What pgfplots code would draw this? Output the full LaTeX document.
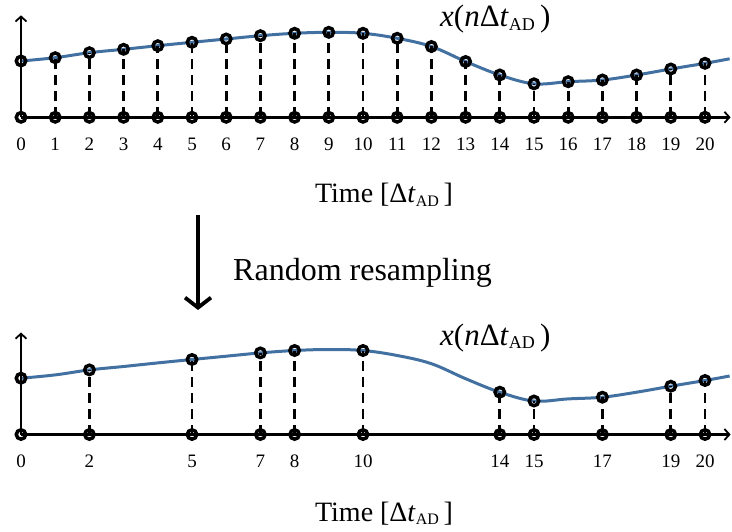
\documentclass[border=0pt]{standalone}
\usepackage{pgfplots}
\usepackage{pgfplotstable}
\pgfplotsset{compat=1.18}
\usepackage{fontspec}
\setmainfont{Liberation Serif}
\usetikzlibrary{arrows.meta}
\definecolor{curveblue}{RGB}{66,112,160}

\pgfplotstableread{
x y
0 56.3
1 59.6
2 64.6
3 68
4 71.6
5 75
6 78.3
7 81.6
8 84
9 85
10 84
11 79
12 70.8
13 55.8
14 42.3
15 33.5
16 35.6
17 37.3
18 42.3
19 48.3
20 54
20.72 58.5
}\curvetab

\pgfplotstableread{
x y
0 56.3
1 59.6
2 64.6
3 68
4 71.6
5 75
6 78.3
7 81.6
8 84
9 85
10 84
11 79
12 70.8
13 55.8
14 42.3
15 33.5
16 35.6
17 37.3
18 42.3
19 48.3
20 54
}\toptab

\pgfplotstableread{
x y
0 56.3
2 64.6
5 75
7 81.6
8 84
10 84
14 42.3
15 33.5
17 37.3
19 48.3
20 54
}\bottab

\pgfplotsset{
  stemaxis/.style={
    anchor=origin, x=34.2pt, y=1pt,
    xmin=0, xmax=20.75, ymin=0, ymax=102,
    axis lines=left, clip=false, axis on top,
    axis line style={line width=2.6pt, -{Straight Barb[length=5pt,width=11pt,line width=1.8pt]}},
    ytick=\empty, major tick length=0pt,
    /pgf/number format/assume math mode=true,
    xticklabel style={font=\fontsize{19}{21}\selectfont, anchor=base, yshift=-33pt},
  },
  samplemark/.style={only marks, mark=o, mark size=4.7pt, line width=3.5pt, draw=black,
    mark options={line width=3.5pt, draw=black, fill=none, solid}},
  stem/.style={ycomb, black, line width=2.7pt, dash pattern=on 10pt off 6pt, mark=none},
  curve/.style={curveblue, line width=3pt, smooth, tension=0.6},
}

\begin{document}
\begin{tikzpicture}[x=1pt,y=1pt]
\path[use as bounding box] (0,0) rectangle (732,-532);

% ---- top panel ----
\begin{axis}[stemaxis, at={(21pt,-117.3pt)}, xtick={0,1,...,20}]
\addplot[curve] table[x=x,y=y] {\curvetab};
\addplot[stem] table[x=x,y=y] {\toptab};
\addplot[samplemark] table[x=x,y=y] {\toptab};
\addplot[samplemark] table[x=x,y expr=0] {\toptab};
\end{axis}

% ---- bottom panel ----
\begin{axis}[stemaxis, at={(21pt,-434.5pt)}, xtick={0,2,5,7,8,10,14,15,17,19,20}]
\addplot[curve] table[x=x,y=y] {\curvetab};
\addplot[stem] table[x=x,y=y] {\bottab};
\addplot[samplemark] table[x=x,y=y] {\bottab};
\addplot[samplemark] table[x=x,y expr=0] {\bottab};
\end{axis}

% ---- labels ----
\newcommand{\xlab}{\fontsize{31}{34}\selectfont\textit{x}(\textit{n}Δ\textit{t}\raisebox{-0.28ex}{\fontsize{18}{19}\selectfont AD}\,)}
\newcommand{\tlab}{\fontsize{28}{30}\selectfont Time [Δ\textit{t}\raisebox{-0.28ex}{\fontsize{16}{17}\selectfont AD}\,]}
\node[anchor=base west, inner sep=0] at (440,-27) {\xlab};
\node[anchor=base west, inner sep=0] at (440,-345) {\xlab};
\node[anchor=base, inner sep=0] at (384,-203) {\tlab};
\node[anchor=base, inner sep=0] at (384,-521) {\tlab};
\node[anchor=base west, inner sep=0] at (233,-280) {\fontsize{32}{35}\selectfont Random resampling};
\draw[line width=4pt, -{Straight Barb[length=10pt,width=26pt,line width=3.8pt]}] (198,-215) -- (198,-310);
\end{tikzpicture}
\end{document}
